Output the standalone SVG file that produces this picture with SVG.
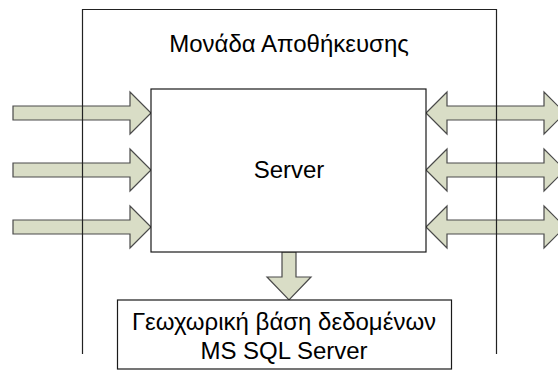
<svg xmlns="http://www.w3.org/2000/svg" width="558" height="385" viewBox="0 0 558 385">
  <style>
    .arrow { fill: #d9ddc6; stroke: #4a4a4a; stroke-width: 1.2; }
    .box { fill: #ffffff; stroke: #1a1a1a; stroke-width: 1.2; }
    .frame { fill: none; stroke: #222222; stroke-width: 1.2; }
    .label { font-family: "Liberation Sans", Arial, sans-serif; font-size: 24px; fill: #000000; text-anchor: middle; }
  </style>
  <rect width="558" height="385" fill="#ffffff"/>

  <g id="connectors">
    <!-- incoming arrows on the left -->
    <polygon class="arrow" points="13,106 130,106 130,92 151,113 130,134 130,120 13,120"/>
    <polygon class="arrow" points="13,163 130,163 130,149 151,170 130,191 130,177 13,177"/>
    <polygon class="arrow" points="13,220 130,220 130,206 151,227 130,248 130,234 13,234"/>
    <!-- two-way arrows on the right -->
    <polygon class="arrow" points="426,113 447,92 447,106 544,106 544,92 565,113 544,134 544,120 447,120 447,134"/>
    <polygon class="arrow" points="426,170 447,149 447,163 544,163 544,149 565,170 544,191 544,177 447,177 447,191"/>
    <polygon class="arrow" points="426,227 447,206 447,220 544,220 544,206 565,227 544,248 544,234 447,234 447,248"/>
    <!-- server to database -->
    <polygon class="arrow" points="282,252 296,252 296,277 311,277 289,300 267,277 282,277"/>
  </g>

  <g id="storage-unit">
    <path class="frame" d="M82.5,354 V9.5 H496.5 V354"/>
    <text class="label" x="289" y="52">Μονάδα Αποθήκευσης</text>
  </g>

  <g id="server">
    <rect class="box" x="151" y="89" width="275" height="163"/>
    <text class="label" x="289" y="178">Server</text>
  </g>

  <g id="database">
    <rect class="box" x="117.5" y="300" width="334" height="69"/>
    <text class="label" x="284" y="330">Γεωχωρική βάση δεδομένων</text>
    <text class="label" x="284" y="359">MS SQL Server</text>
  </g>
</svg>
